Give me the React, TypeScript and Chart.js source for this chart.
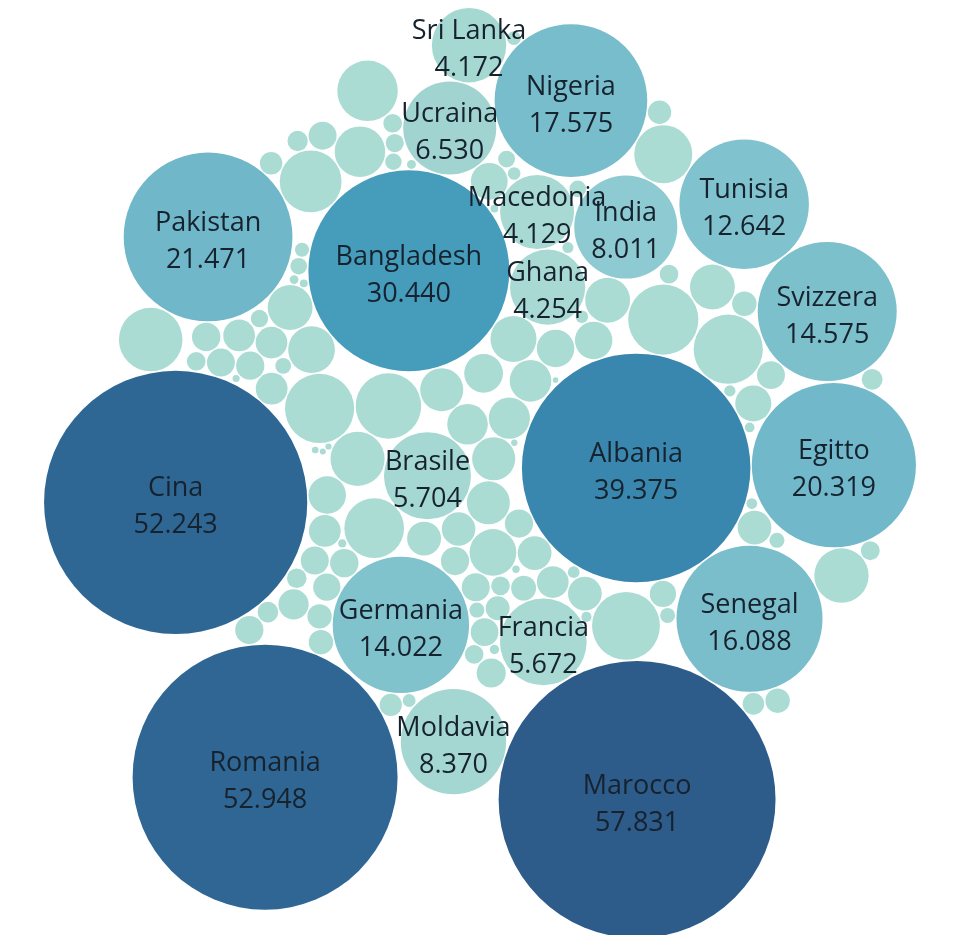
import { useEffect, useRef } from 'react';
import { Chart, registerables } from 'chart.js';

Chart.register(...registerables);

// Paesi di provenienza (stringa vuota = paese non etichettato nel grafico)
const paesi: string[] = [
  '', '', '', '', '', '', '', '', '', '',
  '', '', '', '', '', '', '', '', '', 'Albania',
  'Brasile', '', '', '', '', '', 'Bangladesh', '', 'Cina', 'Ghana',
  '', '', '', '', '', '', '', '', '', '',
  '', '', 'Macedonia', 'Francia', 'Pakistan', '', 'Germania', '', '', '',
  '', '', '', '', '', '', '', '', '', '',
  '', '', '', '', '', '', '', '', 'Ucraina', '',
  '', 'India', '', '', 'Egitto', '', '', 'Marocco', '', '',
  '', '', '', '', 'Nigeria', '', '', '', '', '',
  '', '', '', '', '', '', '', '', '', '',
  '', '', '', 'Senegal', '', '', '', '', '', '',
  'Sri Lanka', '', '', 'Tunisia', 'Moldavia', '', '', '', '', '',
  '', 'Svizzera', 'Romania', '', '', '', '', '', '', '',
  '',
];

// Residenti per paese
const residenti: number[] = [
  3240, 1280, 2210, 1400, 1400, 3610, 30, 1240, 1310, 1390,
  27, 24, 1060, 1130, 600, 29, 1060, 1650, 1650, 39375,
  5704, 1600, 860, 33, 1060, 870, 30440, 760, 52243, 4254,
  41, 1520, 980, 2690, 45, 860, 760, 1520, 850, 47,
  860, 52, 4129, 5672, 21471, 3610, 14022, 60, 3480, 38,
  118, 66, 58, 71, 760, 1020, 78, 760, 3720, 170,
  2760, 88, 690, 92, 640, 760, 96, 610, 6530, 104,
  610, 8011, 600, 2880, 20319, 594, 120, 57831, 600, 1520,
  125, 1925, 520, 600, 17575, 590, 150, 590, 560, 214,
  170, 590, 264, 430, 590, 170, 450, 140, 580, 185,
  450, 370, 205, 16088, 3050, 210, 470, 210, 330, 446,
  4172, 450, 230, 12642, 8370, 250, 2230, 320, 410, 260,
  380, 14575, 52948, 264, 350, 264, 2540, 264, 310, 270,
  290,
];

// Styles
const COLORE_ALTRI = '#aadcd4';
const coloriPaesi: Record<string, string> = {
  Ucraina: '#a1d4d0',
  'Sri Lanka': '#a6d8d2',
  Nigeria: '#78bdcb',
  Macedonia: '#a8dad3',
  India: '#8ecad1',
  Ghana: '#a8dad3',
  Tunisia: '#80c2cd',
  Pakistan: '#6fb7c9',
  Bangladesh: '#459cbb',
  Svizzera: '#7cc0cc',
  Albania: '#3987ae',
  Egitto: '#71b9ca',
  Cina: '#2f6794',
  Brasile: '#a5d8d2',
  Francia: '#a8dad3',
  Germania: '#81c3cd',
  Senegal: '#7abecc',
  Romania: '#2f6693',
  Moldavia: '#a4d7d2',
  Marocco: '#2d5b8a',
};
const RAGGIO_PER_MIGLIAIO = 19.46;
const GAP = 1.5;
const W = 959;
const H = 935;

const fmt = (v: number) => String(v).replace(/\B(?=(\d{3})+(?!\d))/g, '.');

type N = { x: number; y: number; r: number };

// Packed-bubble layout: nodes start on a sunflower spiral in data order,
// then gravity toward the centre + collision resolution compacts them.
function layoutBubbles(radii: number[], gap: number): N[] {
  const n = radii.length;
  const golden = Math.PI * (3 - Math.sqrt(5));
  const R0 = 500;
  const nodes: N[] = radii.map((r, i) => {
    const rho = R0 * Math.sqrt((i + 0.5) / n);
    const th = i * golden;
    return { x: rho * Math.sin(th), y: -rho * Math.cos(th), r };
  });
  const collide = () => {
    for (let i = 0; i < n; i++) {
      const a = nodes[i];
      for (let j = i + 1; j < n; j++) {
        const b = nodes[j];
        let dx = b.x - a.x;
        let dy = b.y - a.y;
        const min = a.r + b.r + gap;
        const d2 = dx * dx + dy * dy;
        if (d2 >= min * min) continue;
        let d = Math.sqrt(d2);
        if (d < 1e-6) {
          dx = 1e-3;
          dy = 0;
          d = 1e-3;
        }
        const ov = (min - d) / d;
        const wa = b.r / (a.r + b.r);
        const wb = a.r / (a.r + b.r);
        a.x -= dx * ov * wa;
        a.y -= dy * ov * wa;
        b.x += dx * ov * wb;
        b.y += dy * ov * wb;
      }
    }
  };
  const ITER = 500;
  for (let it = 0; it < ITER; it++) {
    const g = 0.012 * (1 - it / ITER) + 0.003;
    for (const p of nodes) {
      p.x -= p.x * g;
      p.y -= p.y * g;
    }
    collide();
    collide();
  }
  for (let k = 0; k < 150; k++) collide();
  return nodes;
}

export default function App() {
  const ref = useRef<HTMLCanvasElement>(null);

  useEffect(() => {
    const radii = residenti.map((v) => RAGGIO_PER_MIGLIAIO * Math.sqrt(v / 1000));
    const layout = layoutBubbles(radii, GAP);
    let minX = Infinity, maxX = -Infinity, minY = Infinity, maxY = -Infinity;
    layout.forEach((p) => {
      minX = Math.min(minX, p.x - p.r);
      maxX = Math.max(maxX, p.x + p.r);
      minY = Math.min(minY, p.y - p.r);
      maxY = Math.max(maxY, p.y + p.r);
    });
    const s = Math.min(1, 930 / (maxX - minX), 930 / (maxY - minY));
    const pts = layout.map((p) => ({ x: p.x * s, y: p.y * s, r: p.r * s }));
    const bcx = ((minX + maxX) / 2) * s;
    const bcy = ((minY + maxY) / 2) * s;
    const xMin = bcx - 480;
    const yMin = bcy - 473;

    const colors = paesi.map((n) => (n && coloriPaesi[n]) || COLORE_ALTRI);

    const labelPlugin = {
      id: 'bubbleLabels',
      afterDatasetsDraw(chart: any) {
        const ctx = chart.ctx as CanvasRenderingContext2D;
        const meta = chart.getDatasetMeta(0);
        ctx.save();
        ctx.fillStyle = '#16222e';
        ctx.font = '27px "Open Sans", "Noto Sans", sans-serif';
        ctx.textAlign = 'center';
        ctx.textBaseline = 'alphabetic';
        meta.data.forEach((el: any, i: number) => {
          const name = paesi[i];
          if (!name) return;
          const { x, y } = el.getProps(['x', 'y'], true);
          ctx.fillText(name, x, y - 6);
          ctx.fillText(fmt(residenti[i]), x, y + 31);
        });
        ctx.restore();
      },
    };

    const chart = new Chart(ref.current as HTMLCanvasElement, {
      type: 'bubble',
      data: {
        datasets: [
          {
            label: 'Residenti',
            data: pts,
            backgroundColor: colors,
            borderWidth: 0,
            hoverBorderWidth: 0,
            clip: false as any,
          },
        ],
      },
      options: {
        responsive: false,
        animation: false,
        events: [],
        layout: { padding: 0, autoPadding: false },
        plugins: { legend: { display: false }, tooltip: { enabled: false } },
        scales: {
          x: { type: 'linear', display: false, min: xMin, max: xMin + W },
          y: { type: 'linear', display: false, min: yMin, max: yMin + H, reverse: true },
        },
      },
      plugins: [labelPlugin],
    });
    return () => chart.destroy();
  }, []);

  return (
    <div style={{ position: 'absolute', left: 0, top: 0, width: W, height: H, background: '#ffffff' }}>
      <canvas ref={ref} width={W} height={H} style={{ display: 'block' }} />
    </div>
  );
}
